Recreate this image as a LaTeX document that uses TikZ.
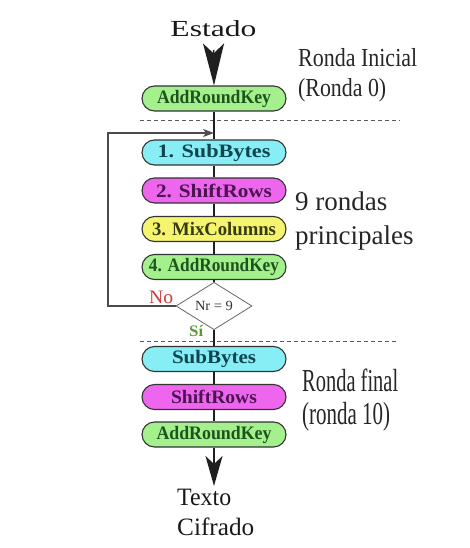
\documentclass[tikz,border=0pt]{standalone}
\usepackage{graphicx}
\usepackage{fontspec}
\setmainfont{Liberation Serif}
\usetikzlibrary{arrows.meta,shapes.geometric}

% stretch or squeeze a label horizontally to a given width (in pt)
\newcommand{\fitw}[2]{\resizebox{#1pt}{\height}{#2}}

\definecolor{fillgreen}{HTML}{A4F08C}
\definecolor{fillcyan}{HTML}{86EEF4}
\definecolor{fillmagenta}{HTML}{EE66EE}
\definecolor{fillyellow}{HTML}{F4F46E}
\definecolor{txtgreen}{HTML}{1E531E}
\definecolor{txtcyan}{HTML}{0F4550}
\definecolor{txtmagenta}{HTML}{4A1550}
\definecolor{txtyellow}{HTML}{3A3A12}
\definecolor{edgegray}{HTML}{333333}
\definecolor{noRed}{HTML}{D43838}
\definecolor{siGreen}{HTML}{5A9A30}

\tikzset{
  stage/.style={draw=edgegray, line width=1.1pt, rounded corners=12.5pt,
    minimum width=144pt, minimum height=25pt, inner sep=0pt,
    font=\fontsize{19}{22}\selectfont\bfseries},
  addkey/.style={stage, fill=fillgreen, text=txtgreen},
  subbytes/.style={stage, fill=fillcyan, text=txtcyan},
  shiftrows/.style={stage, fill=fillmagenta, text=txtmagenta},
  mixcols/.style={stage, fill=fillyellow, text=txtyellow},
  check/.style={diamond, draw=black!60, line width=0.8pt, fill=white,
    minimum width=76pt, minimum height=35pt, inner sep=0pt,
    font=\fontsize{14}{16}\selectfont, text=black!80},
  flow/.style={draw=black!88, line width=1.6pt},
  back/.style={draw=black!70, line width=1.5pt},
  sep/.style={draw=black!65, line width=1pt, dash pattern=on 4pt off 3pt},
  title/.style={inner sep=0pt, font=\fontsize{23}{26}\selectfont, text=black!90},
  roundnote/.style={inner sep=0pt, anchor=base west, text=black!85},
}

\begin{document}
\begin{tikzpicture}[x=1pt, y=-1pt]
  \useasboundingbox (0,0) rectangle (469,548);

  % input state and initial round
  \node[title, anchor=base] (estado) at (213.5,36.5) {\fitw{86}{Estado}};
  \node[addkey] (ark0) at (214,98.5) {\fitw{114}{AddRoundKey}};

  % main rounds
  \node[subbytes]  (sb1) at (214,152.5) {\fitw{113}{1. SubBytes}};
  \node[shiftrows] (sr2) at (214,190.5) {\fitw{116}{2. ShiftRows}};
  \node[mixcols]   (mc3) at (214,229)   {\fitw{124}{3. MixColumns}};
  \node[addkey]    (ark4) at (214,267)  {\fitw{130}{4. AddRoundKey}};
  \node[check]     (chk) at (214,306)   {\fitw{38}{Nr = 9}};

  % final round
  \node[subbytes]  (sbf) at (214,359)  {\fitw{84}{SubBytes}};
  \node[shiftrows] (srf) at (214,397)  {\fitw{86}{ShiftRows}};
  \node[addkey]    (arkf) at (214,434.5) {\fitw{115}{AddRoundKey}};

  % output text
  \coordinate (outtip) at (214,486);
  \node[title, anchor=base west, font=\fontsize{25}{28}\selectfont] (txt1) at (177,505) {\fitw{54}{Texto}};
  \node[title, anchor=base west, font=\fontsize{25}{28}\selectfont] (txt2) at (177,535) {\fitw{77}{Cifrado}};

  % loop corner points
  \coordinate (loopbot) at (108,306);
  \coordinate (looptop) at (108,133);
  \coordinate (join) at (214,133);

  % round separators
  \draw[sep] (140,121) -- (400,121);
  \draw[sep] (140,341) -- (398,341);

  % data flow
  \draw[flow, shorten <=13pt, -{Stealth[length=42pt, width=21pt, inset=10pt]}] (estado.south) -- (ark0.north);
  \draw[flow] (ark0) -- (sb1) -- (sr2) -- (mc3) -- (ark4) -- (chk) -- (sbf) -- (srf) -- (arkf);
  \draw[flow, -{Stealth[length=30pt, width=17pt, inset=8pt]}] (arkf.south) -- (outtip);

  % repeat loop back to the first main step
  \draw[back, -{Stealth[length=11pt, width=8pt, inset=3pt]}] (chk.west) -- (loopbot) -- (looptop) -- (join);

  % branch labels
  \node[roundnote, text=noRed, font=\fontsize{19}{22}\selectfont] (no) at (149,303) {\fitw{24}{No}};
  \node[roundnote, text=siGreen, font=\fontsize{16}{18}\selectfont\bfseries] (si) at (189,336) {\fitw{14}{Sí}};

  % round annotations
  \node[roundnote, font=\fontsize{26}{30}\selectfont] (ri1) at (298,67) {\fitw{119}{Ronda Inicial}};
  \node[roundnote, font=\fontsize{26}{30}\selectfont] (ri2) at (298,97) {\fitw{88}{(Ronda 0)}};
  \node[roundnote, font=\fontsize{27}{30}\selectfont] (rp1) at (295,210) {9 rondas};
  \node[roundnote, font=\fontsize{27}{30}\selectfont] (rp2) at (295,244) {principales};
  \node[roundnote, font=\fontsize{32}{36}\selectfont] (rf1) at (302,391) {\fitw{96}{Ronda final}};
  \node[roundnote, font=\fontsize{32}{36}\selectfont] (rf2) at (302,424) {\fitw{88}{(ronda 10)}};
\end{tikzpicture}
\end{document}
